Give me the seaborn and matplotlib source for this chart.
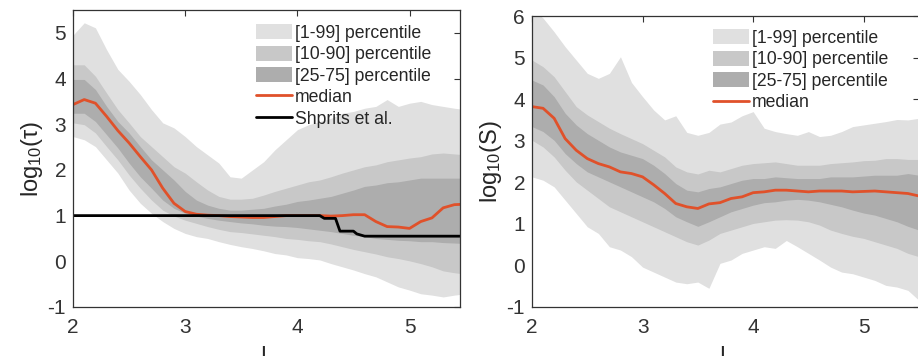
import numpy as np
import pandas as pd
import matplotlib
matplotlib.use("Agg")
import matplotlib.pyplot as plt
from matplotlib.patches import Patch
from matplotlib.lines import Line2D
import seaborn as sns

# L grid shared by all series (0.1 spacing)
L = [2.0, 2.1, 2.2, 2.3, 2.4, 2.5, 2.6, 2.7, 2.8, 2.9, 3.0, 3.1, 3.2, 3.3, 3.4, 3.5, 3.6, 3.7,
     3.8, 3.9, 4.0, 4.1, 4.2, 4.3, 4.4, 4.5, 4.6, 4.7, 4.8, 4.9, 5.0, 5.1, 5.2, 5.3, 5.4, 5.5]

# left panel: log10(tau)
tau_p1 = [2.73, 2.66, 2.51, 2.22, 1.93, 1.56, 1.27, 1.05, 0.87, 0.72, 0.61, 0.54, 0.50, 0.43, 0.37, 0.32, 0.28, 0.23,
          0.17, 0.14, 0.08, 0.06, 0.03, -0.05, -0.12, -0.19, -0.27, -0.34, -0.45, -0.56, -0.63, -0.71, -0.74, -0.78, -0.74, -0.71]
tau_p99 = [4.95, 5.22, 5.11, 4.63, 4.20, 3.94, 3.65, 3.32, 3.03, 2.92, 2.73, 2.51, 2.33, 2.15, 1.85, 1.82, 2.00, 2.18,
           2.44, 2.66, 2.88, 2.99, 3.06, 3.13, 3.24, 3.28, 3.35, 3.39, 3.54, 3.39, 3.46, 3.50, 3.43, 3.39, 3.35, 3.32]
tau_p10 = [3.03, 2.99, 2.81, 2.51, 2.22, 1.89, 1.60, 1.34, 1.12, 0.99, 0.90, 0.83, 0.76, 0.70, 0.65, 0.63, 0.60, 0.57,
           0.54, 0.50, 0.48, 0.45, 0.43, 0.38, 0.32, 0.26, 0.21, 0.16, 0.10, 0.06, 0.01, -0.05, -0.12, -0.21, -0.25, -0.28]
tau_p90 = [4.30, 4.30, 4.05, 3.68, 3.32, 3.03, 2.73, 2.51, 2.29, 2.07, 1.93, 1.74, 1.56, 1.42, 1.36, 1.36, 1.38, 1.45,
           1.53, 1.60, 1.67, 1.74, 1.78, 1.85, 1.93, 2.00, 2.07, 2.11, 2.18, 2.22, 2.26, 2.29, 2.35, 2.37, 2.35, 2.33]
tau_p25 = [3.24, 3.24, 3.06, 2.77, 2.48, 2.15, 1.85, 1.60, 1.34, 1.16, 1.05, 0.99, 0.94, 0.90, 0.87, 0.84, 0.82, 0.79,
           0.77, 0.76, 0.74, 0.71, 0.68, 0.65, 0.61, 0.57, 0.54, 0.50, 0.48, 0.46, 0.45, 0.43, 0.43, 0.41, 0.40, 0.39]
tau_p75 = [3.98, 3.98, 3.76, 3.39, 3.06, 2.81, 2.51, 2.22, 2.00, 1.78, 1.53, 1.34, 1.23, 1.16, 1.12, 1.12, 1.14, 1.16,
           1.21, 1.25, 1.31, 1.34, 1.38, 1.42, 1.49, 1.56, 1.64, 1.67, 1.72, 1.74, 1.78, 1.82, 1.82, 1.82, 1.82, 1.82]
tau_med = [3.43, 3.54, 3.46, 3.17, 2.86, 2.59, 2.29, 2.00, 1.60, 1.27, 1.09, 1.03, 1.01, 1.00, 0.98, 0.97, 0.96, 0.96,
           0.98, 1.00, 1.00, 1.00, 1.00, 0.99, 1.00, 1.02, 1.02, 0.87, 0.76, 0.75, 0.72, 0.87, 0.95, 1.17, 1.24, 1.25]

# Shprits et al. reference lifetime
shprits_L = [2.0, 4.2, 4.24, 4.34, 4.38, 4.5, 4.53, 4.6, 5.5]
shprits_val = [1.0, 1.0, 0.94, 0.94, 0.66, 0.66, 0.6, 0.55, 0.55]

# right panel: log10(S)
s_p1 = [2.13, 2.05, 1.89, 1.57, 1.25, 0.93, 0.77, 0.45, 0.37, 0.21, -0.04, -0.16, -0.28, -0.40, -0.44, -0.40, -0.55, 0.05,
        0.13, 0.29, 0.37, 0.45, 0.41, 0.60, 0.45, 0.29, 0.13, -0.04, -0.16, -0.20, -0.28, -0.36, -0.48, -0.52, -0.60, -0.84]
s_p99 = [6.20, 5.95, 5.62, 5.26, 4.94, 4.62, 4.50, 4.62, 5.02, 4.40, 4.06, 3.74, 3.50, 3.60, 3.20, 3.13, 3.20, 3.40,
         3.45, 3.60, 3.70, 3.30, 3.22, 3.17, 3.13, 3.22, 3.10, 3.13, 3.22, 3.34, 3.38, 3.42, 3.46, 3.51, 3.50, 3.54]
s_p10 = [3.01, 2.85, 2.61, 2.29, 2.01, 1.81, 1.61, 1.41, 1.29, 1.17, 1.05, 0.93, 0.81, 0.69, 0.57, 0.49, 0.61, 0.77,
         0.85, 0.93, 1.01, 1.05, 1.09, 1.10, 1.09, 1.05, 0.97, 0.85, 0.77, 0.70, 0.65, 0.57, 0.49, 0.41, 0.29, 0.21]
s_p90 = [4.94, 4.78, 4.54, 4.18, 3.82, 3.62, 3.46, 3.30, 3.17, 3.05, 2.93, 2.77, 2.61, 2.37, 2.25, 2.20, 2.29, 2.25,
         2.33, 2.41, 2.45, 2.47, 2.49, 2.45, 2.41, 2.41, 2.41, 2.45, 2.47, 2.49, 2.52, 2.53, 2.57, 2.57, 2.55, 2.55]
s_p25 = [3.34, 3.22, 3.01, 2.69, 2.45, 2.25, 2.13, 2.01, 1.89, 1.77, 1.65, 1.53, 1.37, 1.17, 1.05, 0.94, 1.05, 1.17,
         1.29, 1.37, 1.45, 1.51, 1.53, 1.57, 1.59, 1.57, 1.53, 1.47, 1.41, 1.33, 1.26, 1.21, 1.13, 1.05, 0.94, 0.85]
s_p75 = [4.46, 4.34, 4.06, 3.66, 3.38, 3.17, 3.01, 2.85, 2.73, 2.65, 2.57, 2.41, 2.21, 1.97, 1.81, 1.77, 1.85, 1.89,
         1.97, 2.05, 2.09, 2.09, 2.13, 2.11, 2.09, 2.09, 2.09, 2.13, 2.13, 2.13, 2.15, 2.17, 2.17, 2.17, 2.21, 2.17]
s_med = [3.82, 3.78, 3.54, 3.05, 2.77, 2.57, 2.45, 2.37, 2.25, 2.21, 2.13, 1.94, 1.73, 1.49, 1.41, 1.37, 1.48, 1.51,
         1.61, 1.65, 1.75, 1.77, 1.81, 1.81, 1.79, 1.77, 1.79, 1.79, 1.79, 1.77, 1.78, 1.79, 1.77, 1.75, 1.73, 1.67]

band_labels = ['[1-99] percentile', '[10-90] percentile', '[25-75] percentile']
band_colors = ['#e0e0e0', '#c8c8c8', '#adadad']
median_color = '#e0512a'

sns.set_style('white')
plt.rcParams['font.family'] = ['Liberation Sans', 'DejaVu Sans']
plt.rcParams['mathtext.fontset'] = 'custom'
plt.rcParams['mathtext.rm'] = 'Liberation Sans'
plt.rcParams['mathtext.it'] = 'Liberation Sans:italic'
plt.rcParams['axes.unicode_minus'] = False


def draw_panel(ax, bands, median, ylabel, ylim, legend_xy, extra=None):
    for (lo, hi), color in zip(bands, band_colors):
        ax.fill_between(L, lo, hi, color=color, linewidth=0)
    df = pd.DataFrame({'L': L, 'median': median})
    sns.lineplot(data=df, x='L', y='median', ax=ax, color=median_color, linewidth=2)
    handles = [Patch(facecolor=c, edgecolor='none') for c in band_colors]
    handles.append(Line2D([], [], color=median_color, linewidth=2))
    labels = band_labels + ['median']
    if extra is not None:
        ex_df = pd.DataFrame({'L': extra[0], 'val': extra[1]})
        sns.lineplot(data=ex_df, x='L', y='val', ax=ax, color='black', linewidth=2, sort=False)
        handles.append(Line2D([], [], color='black', linewidth=2))
        labels.append('Shprits et al.')
    ax.set_ylim(*ylim)
    ax.set_yticks(range(int(ylim[0]), int(ylim[1]) + 1))
    ax.set_xticks([2, 3, 4, 5])
    ax.set_ylabel(ylabel, fontsize=17, labelpad=2)
    ax.set_xlabel('L', fontsize=16, labelpad=6)
    ax.tick_params(direction='in', length=4, width=0.8, top=True, right=True,
                   labelsize=15, colors='#333333', pad=8)
    ax.tick_params(axis='y', pad=5)
    for s in ax.spines.values():
        s.set_color('#333333')
        s.set_linewidth(0.9)
    ax.legend(handles, labels, loc='upper left', bbox_to_anchor=legend_xy, frameon=False,
              fontsize=12.7, handlelength=2.05, handleheight=0.95, handletextpad=0.15,
              labelspacing=0.22, borderpad=0, borderaxespad=0)


fig = plt.figure(figsize=(9.18, 3.56), dpi=100)
ax1 = fig.add_axes([73 / 918, 1 - 307 / 356, (460 - 73) / 918, (307 - 10) / 356])
ax2 = fig.add_axes([532 / 918, 1 - 307 / 356, (919 - 532) / 918, (307 - 16) / 356])

draw_panel(ax1, [(tau_p1, tau_p99), (tau_p10, tau_p90), (tau_p25, tau_p75)], tau_med,
           'log$_{10}$(τ)', (-1, 5.5), (0.473, 0.953), extra=(shprits_L, shprits_val))
ax1.set_xlim(2, 5.45)
ax1.set_yticks([-1, 0, 1, 2, 3, 4, 5])

draw_panel(ax2, [(s_p1, s_p99), (s_p10, s_p90), (s_p25, s_p75)], s_med,
           'log$_{10}$(S)', (-1, 6), (0.468, 0.955))
ax2.set_xlim(2, 5.5)

fig.savefig('out.png', dpi=100)
